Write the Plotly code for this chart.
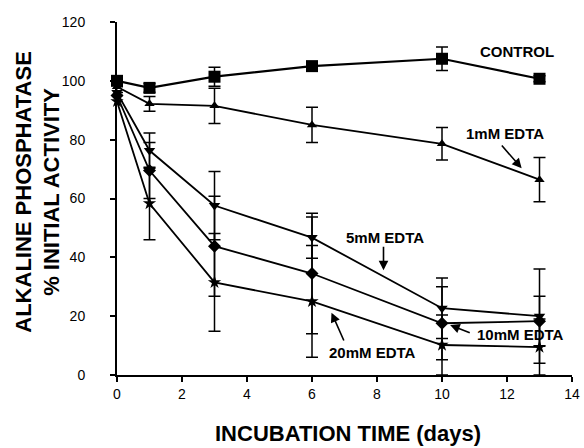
import plotly.graph_objects as go

days = [0, 1, 3, 6, 10, 13]

control = [100, 97.6, 101.4, 105, 107.5, 100.7]
control_err = [0, 1.5, 3.2, 1.0, 4.0, 1.0]

edta1 = [98, 92.2, 91.5, 85, 78.6, 66.4]
edta1_err = [0, 2.5, 6, 6, 5.5, 7.5]

edta5 = [96, 76.3, 57.6, 46.7, 22.7, 20]
edta5_err = [0, 6, 11.6, 7, 10.3, 16]

edta10 = [95, 69.5, 43.8, 34.5, 17.6, 18.3]
edta10_err = [0, 9.5, 17, 20.5, 12.4, 8.5]

edta20 = [93, 58.3, 31.5, 25, 10.2, 9.5]
edta20_err = [0, 12.3, 16.6, 19, 10.2, 9.5]

x_ticks = [0, 2, 4, 6, 8, 10, 12, 14]
y_ticks = [0, 20, 40, 60, 80, 100, 120]

FONT = "Liberation Sans, Arial, sans-serif"

series = [
    ("CONTROL", control, control_err, "square", 12, 2.2),
    ("1mM EDTA", edta1, edta1_err, "triangle-up", 9, 1.8),
    ("5mM EDTA", edta5, edta5_err, "triangle-down", 10, 1.8),
    ("10mM EDTA", edta10, edta10_err, "diamond", 10, 1.8),
    ("20mM EDTA", edta20, edta20_err, "star", 10, 1.8),
]

fig = go.Figure()
for name, vals, errs, sym, size, lw in series:
    fig.add_trace(go.Scatter(
        x=days, y=vals, name=name, mode="lines+markers",
        line=dict(color="black", width=lw),
        marker=dict(symbol=sym, size=size, color="black"),
        error_y=dict(type="data", array=errs, visible=True,
                     color="black", thickness=1.5, width=6),
        cliponaxis=False, showlegend=False,
    ))

# text labels
labels = [
    ("CONTROL", 12.3, 110),
    ("1mM EDTA", 11.94, 82),
    ("5mM EDTA", 8.25, 46.8),
    ("10mM EDTA", 12.43, 13.6),
    ("20mM EDTA", 7.85, 7.8),
]
for t, lx, ly in labels:
    fig.add_annotation(x=lx, y=ly, text=t, showarrow=False,
                       xanchor="center", yanchor="middle",
                       font=dict(family=FONT, size=15, color="black", weight="bold"))

# arrows: (head x, head y, tail x, tail y) in data units
arrows = [
    (12.45, 70.3, 11.8, 78.5),
    (8.2, 35.6, 8.2, 44.1),
    (10.25, 17.0, 10.9, 14.2),
    (6.6, 21.2, 7.0, 11.2),
]
for hx, hy, tx, ty in arrows:
    fig.add_annotation(x=hx, y=hy, ax=tx, ay=ty, axref="x", ayref="y",
                       text="", showarrow=True, arrowhead=2, arrowsize=1.2,
                       arrowwidth=1.6, arrowcolor="black", standoff=0,
                       startstandoff=0)

# axis titles
fig.add_annotation(xref="paper", yref="paper", x=-0.173, y=0.52,
                   xanchor="center", yanchor="middle",
                   text="ALKALINE PHOSPHATASE<br>% INITIAL ACTIVITY",
                   textangle=-90, showarrow=False, align="center",
                   font=dict(family=FONT, size=22, color="black", weight="bold"))
fig.add_annotation(xref="paper", yref="paper", x=0.507, y=-0.165,
                   xanchor="center", yanchor="middle",
                   text="INCUBATION TIME (days)", showarrow=False,
                   font=dict(family=FONT, size=22, color="black", weight="bold"))

fig.update_layout(
    width=584, height=448,
    margin=dict(l=117, r=12, t=22, b=73, autoexpand=False),
    paper_bgcolor="white", plot_bgcolor="white",
    font=dict(family=FONT, size=14, color="black"),
    xaxis=dict(range=[0, 14], tickvals=x_ticks, ticktext=[str(v) for v in x_ticks],
               showline=True, linecolor="black", linewidth=2, automargin=False,
               ticks="outside", ticklen=5, tickwidth=1.5, tickcolor="black",
               showgrid=False, zeroline=False, ticklabelstandoff=0),
    yaxis=dict(range=[0, 120], tickvals=y_ticks, ticktext=[str(v) for v in y_ticks],
               showline=True, linecolor="black", linewidth=2, automargin=False,
               ticks="outside", ticklen=5, tickwidth=1.5, tickcolor="black",
               showgrid=False, zeroline=False, ticklabelstandoff=22),
)

fig.write_html("out.html", config={"displayModeBar": False},
               post_script="document.body.style.margin='0';document.body.style.overflow='hidden';")
